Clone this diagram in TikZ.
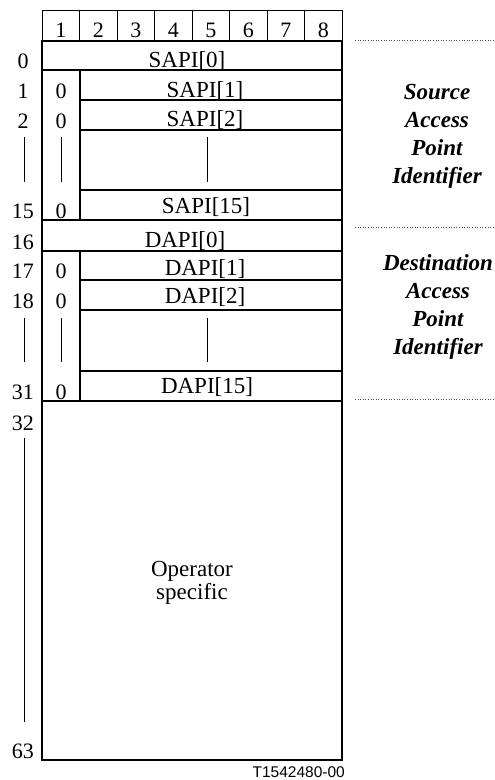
\documentclass[tikz,border=0pt]{standalone}
\usepackage{fontspec}
\setmainfont{Liberation Serif}
\newfontfamily\tagfont{Liberation Sans}
\usetikzlibrary{positioning}

\begin{document}
\begin{tikzpicture}[
  x = 1pt,
  y = -1pt,
  frame/.style = {
    draw,
    line width = 1.3pt
  },
  cell/.style = {
    draw,
    line width = 1pt
  },
  field/.style = {
    anchor = base,
    inner sep = 0pt,
    font = \fontsize{23}{23}\selectfont
  },
  rowno/.style = {
    anchor = base,
    inner sep = 0pt,
    font = \fontsize{22}{22}\selectfont
  },
  bar/.style = {
    line width = 0.8pt
  },
  side/.style = {
    align = center,
    inner sep = 0pt,
    font = \fontsize{23}{28}\selectfont\bfseries\itshape
  },
  sep/.style = {
    dotted,
    line width = 0.6pt,
    black!70
  },
  ]
  \useasboundingbox (0, 0) rectangle (495, 780);

  % Header with the bit numbers.
  \draw[cell] (42, 10) rectangle (342, 41);
  \foreach \i in {1,...,7} {
    \draw[cell] ({42 + 37.5*\i}, 10) -- ({42 + 37.5*\i}, 41);
  }
  \foreach \name in {1,...,8} {
    \node[rowno] (bit-\name) at ({42 + 37.5*(\name - .5)}, 37) {\name};
  }

  % Outer frame and full-width rows.
  \draw[frame] (42, 41) rectangle (342, 760);
  \foreach \y in {70, 220, 251, 401} {
    \draw[frame] (42, \y) -- (342, \y);
  }
  % Rows right of the zero column.
  \foreach \y in {100, 130, 190, 280, 310, 371} {
    \draw[frame] (80, \y) -- (342, \y);
  }
  \draw[frame] (80, 70) -- (80, 220);
  \draw[frame] (80, 251) -- (80, 401);

  % Octet numbers.
  \foreach \name/\y in {0/68, 1/98, 2/128, 15/218, 16/249, 17/278, 18/308,
    31/399, 32/430, 63/758} {
    \node[rowno] (oct-\name) at (23, \y) {\name};
  }
  % Zero bits in the first column.
  \foreach \name/\y in {1/98, 2/128, 15/218, 17/278, 18/308, 31/399} {
    \node[rowno] (zero-\name) at (61, \y) {0};
  }

  % Field names.
  \node[field] (sapi-0) at (187, 67) {SAPI[0]};
  \node[field] (sapi-1) at (205, 97) {SAPI[1]};
  \node[field] (sapi-2) at (205, 126) {SAPI[2]};
  \node[field] (sapi-15) at (206, 213) {SAPI[15]};
  \node[field] (dapi-0) at (185, 247) {DAPI[0]};
  \node[field] (dapi-1) at (205, 275) {DAPI[1]};
  \node[field] (dapi-2) at (205, 303) {DAPI[2]};
  \node[field] (dapi-15) at (207, 393) {DAPI[15]};
  \node[field, anchor = center, align = center,
    font = \fontsize{23}{23}\selectfont] (oper) at (192, 583)
    {Operator\\specific};

  % Continuation bars.
  \foreach \x in {24, 61, 207} {
    \draw[bar] (\x, 137) -- (\x, 182);
    \draw[bar] (\x, 318) -- (\x, 362);
  }
  \draw[bar] (24, 438) -- (24, 722);

  % Labels on the right.
  \draw[sep] (355, 40) -- (495, 40);
  \draw[sep] (355, 227) -- (495, 227);
  \draw[sep] (355, 399) -- (495, 399);
  \node[side] (src) at (437, 136) {Source\\Access\\Point\\Identifier};
  \node[side] (dst) at (438, 307) {Destination\\Access\\Point\\Identifier};

  % Figure tag.
  \node[anchor = base east, inner sep = 0pt,
    font = \tagfont\fontsize{15.5}{16}\selectfont] (tag) at (345, 777)
    {T1542480-00};
\end{tikzpicture}
\end{document}
